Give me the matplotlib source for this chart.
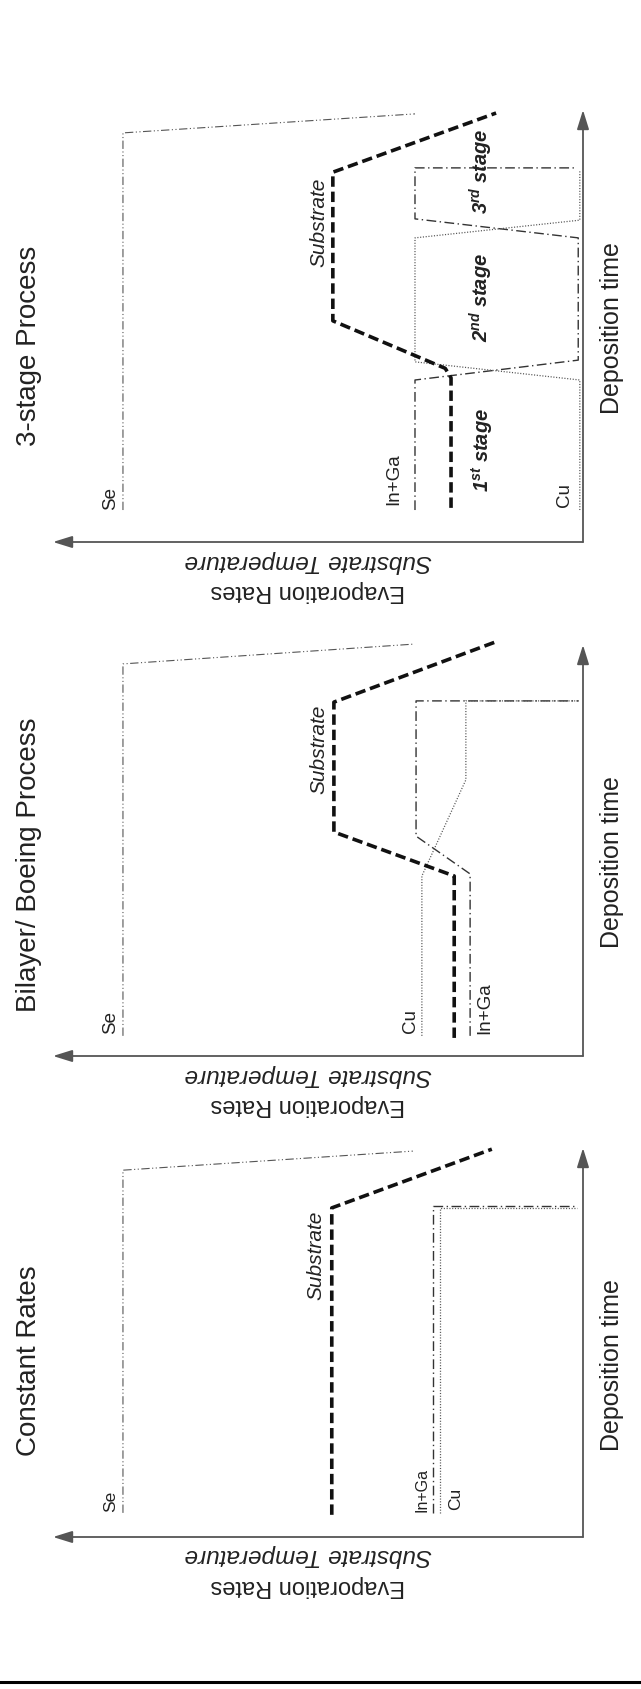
import matplotlib
matplotlib.use('Agg')
import matplotlib.pyplot as plt
from matplotlib.lines import Line2D

plt.rcParams['font.family'] = ['Liberation Sans', 'DejaVu Sans']
plt.rcParams['lines.scale_dashes'] = False
plt.rcParams['mathtext.fontset'] = 'custom'
plt.rcParams['mathtext.rm'] = 'Liberation Sans'
plt.rcParams['mathtext.bfit'] = 'Liberation Sans:bold:italic'

# ---------------- data (rate: 0 = origin, 100 = arrow tip; time: 0..100) -------------
panel_titles = ['3-stage Process', 'Bilayer/ Boeing Process', 'Constant Rates']
rate_label = 'Evaporation Rates'
temp_label = 'Substrate Temperature'
time_label = 'Deposition time'
stage_labels = [r'$\mathbfit{1^{st}}$ stage', r'$\mathbfit{2^{nd}}$ stage', r'$\mathbfit{3^{rd}}$ stage']

# 3-stage process
s3_se_rate = [86.8, 86.8, 31.7]
s3_se_time = [7.4, 94.7, 99.1]
s3_sub_rate = [24.9, 24.9, 26.0, 47.2, 47.2, 16.4]
s3_sub_time = [7.9, 38.0, 40.2, 51.2, 85.6, 99.3]
s3_inga_rate = [31.7, 31.7, 0.9, 0.9, 31.7, 31.7, 1.1]
s3_inga_time = [7.4, 37.5, 42.1, 70.4, 74.8, 86.6, 86.6]
s3_cu_rate = [0.6, 0.6, 31.7, 31.7, 0.6, 0.6]
s3_cu_time = [7.4, 37.5, 41.7, 70.4, 74.5, 86.1]

# Bilayer / Boeing process
bl_se_rate = [86.8, 86.8, 32.1]
bl_se_time = [4.9, 95.4, 100.2]
bl_sub_rate = [24.3, 24.3, 47.0, 47.0, 16.6]
bl_sub_time = [4.4, 43.8, 54.5, 86.1, 100.7]
bl_inga_rate = [21.3, 21.3, 31.5, 31.5, 0.8]
bl_inga_time = [4.9, 44.3, 53.5, 86.4, 86.4]
bl_cu_rate = [30.4, 30.4, 22.1, 22.1, 0.8]
bl_cu_time = [4.9, 43.8, 67.2, 86.4, 86.4]

# Constant rates
cr_se_rate = [86.8, 86.8, 32.1]
cr_se_time = [6.2, 94.3, 99.2]
cr_sub_rate = [47.4, 47.4, 17.2]
cr_sub_time = [5.7, 84.6, 99.7]
cr_inga_rate = [28.3, 28.3, 1.1]
cr_inga_time = [6.2, 85.1, 85.1]
cr_cu_rate = [27.0, 27.0, 1.1]
cr_cu_time = [6.2, 84.6, 84.6]

# ---------------- figure ----------------
W, H = 641, 1689
fig = plt.figure(figsize=(W / 100, H / 100), dpi=100)
fig.patch.set_facecolor('white')


def fx(px):
    return px / W


def fy(py):
    return 1 - py / H


styles = {
    'se': dict(color='#555555', lw=0.8, ls=(0, (6, 1.8, 0.8, 1.8, 0.8, 1.8))),
    'sub': dict(color='#111111', lw=2.6, ls=(0, (7.5, 3.5))),
    'inga': dict(color='#333333', lw=1.0, ls=(0, (7, 2.5, 1, 2.5))),
    'cu': dict(color='#555555', lw=0.9, ls=(0, (0.8, 1.2))),
}

panels = [
    dict(axis_y=542, tip_y=110, title_y=346, time_y=328,
         se=(s3_se_rate, s3_se_time), sub=(s3_sub_rate, s3_sub_time),
         inga=(s3_inga_rate, s3_inga_time), cu=(s3_cu_rate, s3_cu_time),
         lab_se=(89.1, 7.4, 13.5), lab_inga=(35.8, 8.6, 13.5), lab_cu=(3.4, 8.1, 13.5),
         lab_sub=(49.8, 84.3), stages=True),
    dict(axis_y=1056, tip_y=645, title_y=865, time_y=862,
         se=(bl_se_rate, bl_se_time), sub=(bl_sub_rate, bl_sub_time),
         inga=(bl_inga_rate, bl_inga_time), cu=(bl_cu_rate, bl_cu_time),
         lab_se=(89.1, 5.4, 13.5), lab_inga=(18.5, 5.4, 13.5), lab_cu=(32.5, 5.6, 13.5),
         lab_sub=(49.8, 85.6), stages=False),
    dict(axis_y=1537, tip_y=1148, title_y=1361, time_y=1365,
         se=(cr_se_rate, cr_se_time), sub=(cr_sub_rate, cr_sub_time),
         inga=(cr_inga_rate, cr_inga_time), cu=(cr_cu_rate, cr_cu_time),
         lab_se=(89.1, 6.4, 12.5), lab_inga=(30.4, 6.4, 11.5), lab_cu=(24.0, 6.9, 12.5),
         lab_sub=(50.4, 83.8), stages=False),
]

x0, x1 = 583, 53  # origin and rate-arrow tip (px)

for p, title in zip(panels, panel_titles):
    ax = fig.add_axes([fx(x1), fy(p['axis_y']), fx(x0 - x1), (p['axis_y'] - p['tip_y']) / H])
    ax.set_xlim(100, 0)
    ax.set_ylim(0, 100)
    ax.axis('off')

    for key in ('se', 'inga', 'cu', 'sub'):
        r, t = p[key]
        st = styles[key]
        ax.plot(r, t, color=st['color'], lw=st['lw'], linestyle=st['ls'],
                clip_on=False, solid_joinstyle='miter', dash_capstyle='butt')

    arrow = dict(arrowstyle='-|>,head_length=0.9,head_width=0.28', color='#555555',
                 lw=1.3, mutation_scale=13, shrinkA=0, shrinkB=0)
    ax.annotate('', xy=(100, 0), xytext=(0, 0), arrowprops=arrow, annotation_clip=False)
    ax.annotate('', xy=(0, 100), xytext=(0, 0), arrowprops=arrow, annotation_clip=False)

    r, t, fs = p['lab_se']
    ax.text(r, t, 'Se', rotation=90, ha='center', va='bottom', fontsize=fs, color='#222222')
    r, t, fs = p['lab_inga']
    ax.text(r, t, 'In+Ga', rotation=90, ha='center', va='bottom', fontsize=fs, color='#222222')
    r, t, fs = p['lab_cu']
    ax.text(r, t, 'Cu', rotation=90, ha='center', va='bottom', fontsize=fs, color='#222222')
    r, t = p['lab_sub']
    ax.text(r, t, 'Substrate', rotation=90, ha='center', va='top', fontsize=15,
            style='italic', color='#222222')

    if p['stages']:
        for lab, tt in zip(stage_labels, [21.3, 56.7, 85.9]):
            ax.text(19.1, tt, lab, rotation=90, ha='center', va='center', fontsize=14.5,
                    fontweight='bold', style='italic', color='#222222')

    fig.text(fx(29), fy(p['title_y']), title, rotation=90, ha='center', va='center',
             fontsize=20, color='#222222')
    fig.text(fx(612), fy(p['time_y']), time_label, rotation=90, ha='center', va='center',
             fontsize=18, color='#222222')
    fig.text(fx(308), fy(p['axis_y'] + 19), temp_label, rotation=180, ha='center', va='center',
             fontsize=17.5, style='italic', color='#222222')
    fig.text(fx(308), fy(p['axis_y'] + 49), rate_label, rotation=180, ha='center', va='center',
             fontsize=17, color='#222222')

fig.add_artist(Line2D([0, 1], [fy(1682), fy(1682)], transform=fig.transFigure,
                      color='black', lw=2.2))

fig.savefig('out.png', dpi=100, facecolor='white')
